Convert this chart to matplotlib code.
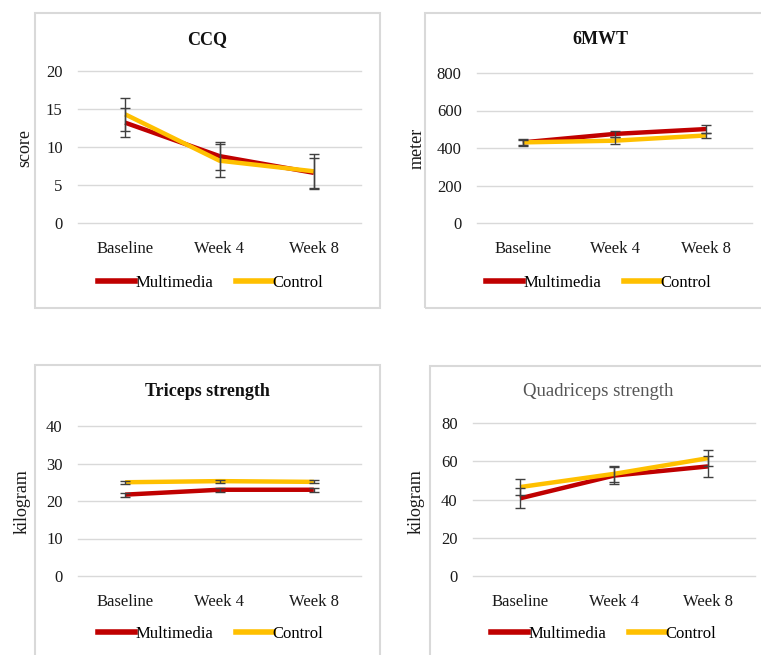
import matplotlib
matplotlib.use("Agg")
import matplotlib.pyplot as plt
from matplotlib.patches import Rectangle
from matplotlib.lines import Line2D

W, H = 761, 655

visits = ["Baseline", "Week 4", "Week 8"]

ccq_multi = [13.2, 8.8, 6.6]
ccq_multi_err = [1.9, 1.8, 2.0]
ccq_ctrl = [14.3, 8.2, 6.8]
ccq_ctrl_err = [2.2, 2.2, 2.3]

mwt_multi = [430, 475, 501]
mwt_multi_err = [18, 18, 20]
mwt_ctrl = [430, 439, 467]
mwt_ctrl_err = [15, 20, 15]

tri_multi = [21.7, 23.0, 23.0]
tri_multi_err = [0.5, 0.5, 0.5]
tri_ctrl = [25.0, 25.3, 25.1]
tri_ctrl_err = [0.4, 0.4, 0.4]

quad_multi = [40.6, 52.5, 57.3]
quad_multi_err = [5.2, 4.5, 5.3]
quad_ctrl = [46.5, 53.4, 61.6]
quad_ctrl_err = [4.3, 4.0, 4.1]

RED = "#C00000"
YEL = "#FFC000"
GRID = "#D9D9D9"

plt.rcParams['font.family'] = ['Liberation Serif', 'DejaVu Serif']

fig = plt.figure(figsize=(W / 100, H / 100), dpi=100)


def px(x, y):
    return x / W, 1 - y / H


def panel(box, axbox, title, title_xy, title_kw, ylabel, ylabel_xy, yticks,
          multi, multi_err, ctrl, ctrl_err, legend_xy):
    # light grey frame around each chart
    bx0, by0, bx1, by1 = box
    fig.patches.append(Rectangle(px(bx0, by1), (bx1 - bx0) / W, (by1 - by0) / H,
                                 transform=fig.transFigure, fill=False,
                                 edgecolor=GRID, linewidth=1.5))
    x0, y0, x1, y1 = axbox
    l, b = px(x0, y1)
    ax = fig.add_axes([l, b, (x1 - x0) / W, (y1 - y0) / H])
    xs = range(len(visits))
    ax.plot(xs, multi, color=RED, lw=3.2, solid_capstyle='butt', zorder=3)
    ax.plot(xs, ctrl, color=YEL, lw=3.2, solid_capstyle='butt', zorder=4)
    ax.errorbar(xs, multi, yerr=multi_err, fmt='none', ecolor='#404040',
                elinewidth=1.0, capsize=3.5, capthick=1.0, zorder=5)
    ax.errorbar(xs, ctrl, yerr=ctrl_err, fmt='none', ecolor='#404040',
                elinewidth=1.0, capsize=3.5, capthick=1.0, zorder=5)
    ax.set_xlim(-0.5, 2.5)
    ax.set_ylim(yticks[0], yticks[-1])
    ax.set_yticks(yticks)
    ax.set_xticks(list(xs))
    ax.set_xticklabels(visits)
    ax.grid(axis='y', color=GRID, lw=1.0)
    for gl in ax.get_ygridlines():
        gl.set_clip_on(False)
    ax.set_axisbelow(True)
    for s in ax.spines.values():
        s.set_visible(False)
    ax.tick_params(axis='both', length=0, labelsize=12, colors='#1a1a1a')
    ax.tick_params(axis='x', pad=13)
    ax.tick_params(axis='y', pad=11)
    ax.patch.set_alpha(0)

    tx, ty = px(*title_xy)
    fig.text(tx, ty, title, ha='center', va='center', **title_kw)
    lx, ly = px(*ylabel_xy)
    fig.text(lx, ly, ylabel, ha='center', va='center', rotation=90,
             fontsize=13, color='#1a1a1a')

    handles = [Line2D([], [], color=RED, lw=4), Line2D([], [], color=YEL, lw=4)]
    gx, gy = px(*legend_xy)
    fig.legend(handles, ["Multimedia", "Control"], loc='center',
               bbox_to_anchor=(gx, gy), ncol=2, frameon=False, fontsize=12,
               handlelength=2.2, handletextpad=0.0, columnspacing=1.4)
    return ax


bold = dict(fontsize=13, fontweight='bold', color='#111111')
plain = dict(fontsize=13.5, color='#555555')

panel((35, 13, 380, 308), (78, 71, 361, 223), "CCQ", (207, 40), bold,
      "score", (25, 148), [0, 5, 10, 15, 20],
      ccq_multi, ccq_multi_err, ccq_ctrl, ccq_ctrl_err, (211, 283))

panel((425, 13, 775, 308), (477, 73, 752, 223), "6MWT", (600, 40), bold,
      "meter", (417, 148), [0, 200, 400, 600, 800],
      mwt_multi, mwt_multi_err, mwt_ctrl, mwt_ctrl_err, (599, 283))

panel((35, 365, 380, 670), (78, 426, 361, 576), "Triceps strength", (207, 392), bold,
      "kilogram", (22, 502), [0, 10, 20, 30, 40],
      tri_multi, tri_multi_err, tri_ctrl, tri_ctrl_err, (211, 634))

panel((430, 366, 775, 670), (473, 423, 755, 576), "Quadriceps strength", (598, 392), plain,
      "kilogram", (416, 502), [0, 20, 40, 60, 80],
      quad_multi, quad_multi_err, quad_ctrl, quad_ctrl_err, (604, 634))

fig.savefig("out.png", dpi=100)
